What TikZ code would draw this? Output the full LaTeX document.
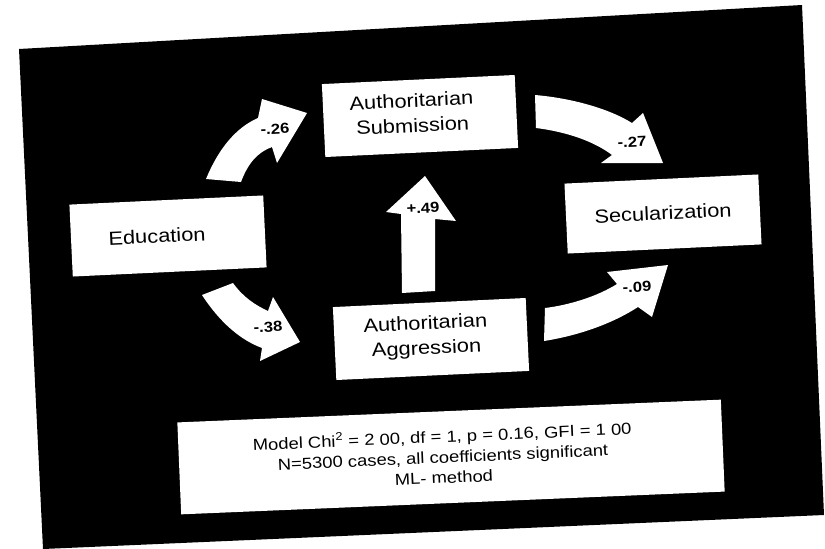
\documentclass[tikz,border=0pt]{standalone}
\usepackage{fontspec}
\setmainfont{Liberation Sans}
\begin{document}
\begin{tikzpicture}[x=1pt,y=-1pt,
  boxshape/.style={fill=white, draw=none, rotate=2.7, inner sep=0pt, minimum width=#1},
  boxtext/.style={rotate=2.7, xscale=1.15, inner sep=0pt, align=center,
    font=\fontsize{19}{25}\selectfont},
  notetext/.style={rotate=2.5, xscale=1.15, inner sep=0pt, align=center,
    font=\fontsize{16}{20.5}\selectfont},
  coef/.style={rotate=2.7, xscale=1.15, inner sep=0pt,
    font=\bfseries\fontsize{14.5}{16}\selectfont},
  blockarrow/.style={fill=white, draw=none}]
\useasboundingbox (0,0) rectangle (825,549);
\clip (0,0) rectangle (825,549);
\fill[white] (0,0) rectangle (825,549);
% dark slide
\fill[black] (19,49) -- (802,5) -- (824,515) -- (43,549) -- cycle;

% boxes
\node[boxshape=194pt, minimum height=72pt] (edu) at (168,236) {};
\node[boxshape=193pt, minimum height=73pt] (sub) at (420,116) {};
\node[boxshape=194pt, minimum height=70pt] (sec) at (663,214) {};
\node[boxshape=193pt, minimum height=73pt] (agg) at (431,339) {};
\node[boxshape=544pt, minimum height=92pt, rotate=-0.3] (note) at (451,457) {};

% box texts
\node[boxtext] (edut) at (157,236) {Education};
\node[boxtext] (subt) at (412,113) {Authoritarian\\Submission};
\node[boxtext] (sect) at (663,213) {Secularization};
\node[boxtext] (aggt) at (426,337) {Authoritarian\\Aggression};
\node[notetext] (notet) at (443,456) {Model Chi\textsuperscript{2} = 2 00, df = 1, p = 0.16, GFI = 1 00\\N=5300 cases, all coefficients significant\\ML- method};

% block arrows
\fill[blockarrow] (206,179) .. controls (218,150) and (235,128) .. (258,118)
  -- (262,99) -- (307,113) -- (277,163) -- (272,147)
  .. controls (258,152) and (248,163) .. (241,182) -- cycle;
\fill[blockarrow] (202,295) .. controls (215,315) and (235,338) .. (262,348)
  -- (260,361) -- (300,342) -- (273,297) -- (268,311)
  .. controls (255,305) and (243,297) .. (233,283) -- cycle;
\fill[blockarrow] (402,293) -- (401,214) -- (386,212) -- (425,176)
  -- (456,221) -- (435,219) -- (435,291) -- cycle;
\fill[blockarrow] (535,95) .. controls (570,98) and (608,108) .. (632,123)
  -- (643,113) -- (663,163) -- (601,163) -- (612,155)
  .. controls (595,142) and (568,132) .. (536,128) -- cycle;
\fill[blockarrow] (545,308) .. controls (570,305) and (598,296) .. (617,284)
  -- (607,272) -- (668,265) -- (652,317) -- (638,307)
  .. controls (615,322) and (582,335) .. (544,341) -- cycle;

% coefficients
\node[coef] (c1) at (275,129) {-.26};
\node[coef] (c2) at (268,327) {-.38};
\node[coef] (c3) at (423,208) {+.49};
\node[coef] (c4) at (632,142) {-.27};
\node[coef] (c5) at (637,287) {-.09};
\end{tikzpicture}
\end{document}
